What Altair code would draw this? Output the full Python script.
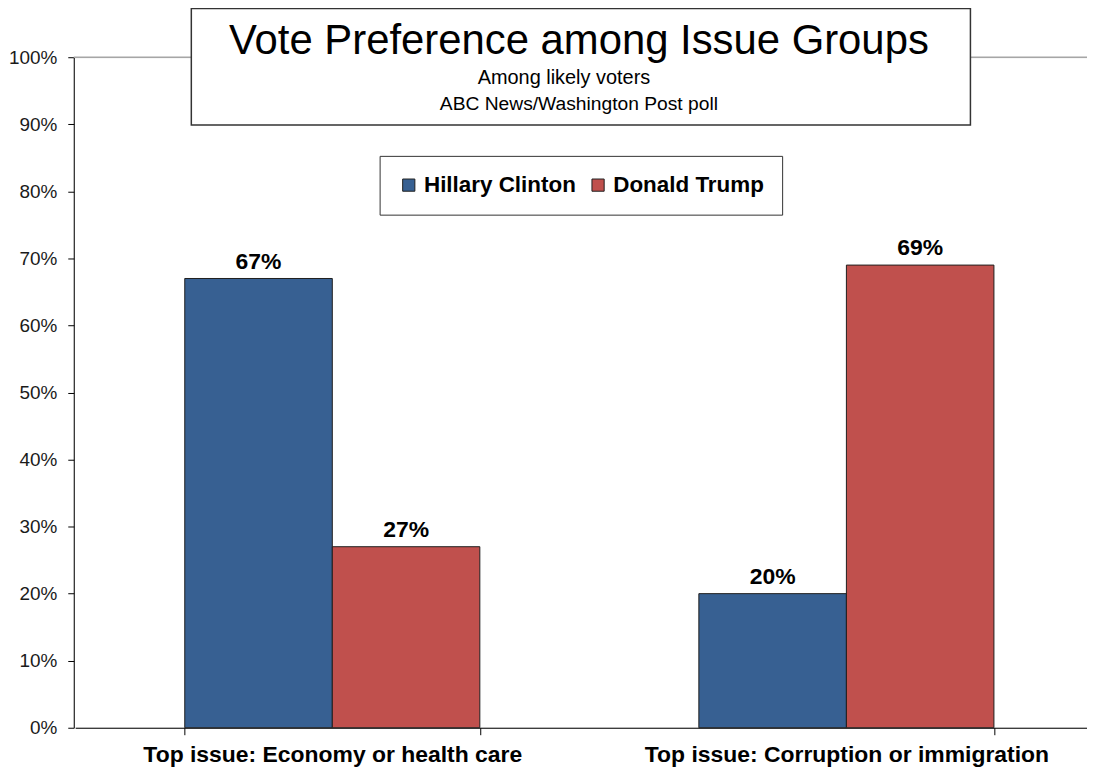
import altair as alt
import pandas as pd

groups = ["Top issue: Economy or health care", "Top issue: Corruption or immigration"]
candidates = ["Hillary Clinton", "Donald Trump"]
clinton = [67, 20]
trump = [27, 69]
colors = ["#376092", "#C0504D"]
title_lines = ["Vote Preference among Issue Groups", "Among likely voters", "ABC News/Washington  Post poll"]
y_ticks = [0, 10, 20, 30, 40, 50, 60, 70, 80, 90, 100]

rows = []
for g, c, t in zip(groups, clinton, trump):
    rows.append({"group": g, "cand": candidates[0], "val": c})
    rows.append({"group": g, "cand": candidates[1], "val": t})
df = pd.DataFrame(rows)

FONT = "Liberation Sans"
W, H = 1017, 673

xscale = alt.Scale(domain=groups, range=[1.5, 1033.5], paddingInner=0.426, paddingOuter=0.213)
yscale = alt.Scale(domain=[0, 100], nice=False)
off = alt.XOffset("cand:N", sort=candidates, scale=alt.Scale(domain=candidates, paddingInner=0, paddingOuter=0))

grid = alt.Chart(pd.DataFrame({"v": [100]})).mark_rule(color="#A6A6A6", strokeWidth=1.5).encode(
    y=alt.Y("v:Q", scale=yscale)
)

bars = alt.Chart(df).mark_bar(stroke="#1f1f1f", strokeWidth=1).encode(
    x=alt.X("group:N", sort=groups, scale=xscale,
            axis=alt.Axis(title=None, labelAngle=0, labelFont=FONT, labelFontSize=23, labelFontWeight="bold",
                          labelColor="#000", tickBand="extent", tickSize=7, tickColor="#000",
                          domainColor="#000", labelPadding=9, labelLimit=600)),
    xOffset=off,
    y=alt.Y("val:Q", scale=yscale,
            axis=alt.Axis(title=None, values=y_ticks, labelExpr="datum.value + '%'", grid=False,
                          labelFont=FONT, labelFontSize=19, labelColor="#1a1a1a", tickSize=6,
                          tickColor="#000", domainColor="#000", labelPadding=11,
                          minExtent=66, maxExtent=66)),
    color=alt.Color("cand:N", sort=candidates,
                    scale=alt.Scale(domain=candidates, range=colors),
                    legend=alt.Legend(title=None, orient="none", legendX=307, legendY=99, direction="horizontal",
                                      strokeColor="#333", fillColor="white", padding=18, symbolType="square",
                                      symbolSize=150, symbolStrokeColor="#1f1f1f", symbolStrokeWidth=1,
                                      labelFont=FONT, labelFontSize=22.5, labelFontWeight="bold",
                                      labelColor="#000", labelLimit=400, columnPadding=10, labelOffset=4)),
)

labels = alt.Chart(df).transform_calculate(lbl="datum.val + '%'").mark_text(
    font=FONT, fontSize=23, fontWeight="bold", baseline="alphabetic", dy=-10, color="#000").encode(
    x=alt.X("group:N", sort=groups, scale=xscale),
    xOffset=off,
    y=alt.Y("val:Q", scale=yscale),
    text="lbl:N",
)

title_box = alt.Chart(pd.DataFrame({"a": [0]})).mark_rect(fill="white", stroke="#333", strokeWidth=1.5).encode(
    x=alt.value(118), x2=alt.value(900), y=alt.value(-49), y2=alt.value(68)
)
t1 = alt.Chart(pd.DataFrame({"t": [title_lines[0]]})).mark_text(font=FONT, fontSize=42, color="#000",
                                                                 baseline="alphabetic").encode(
    x=alt.value(507), y=alt.value(-3), text="t:N")
t2 = alt.Chart(pd.DataFrame({"t": [title_lines[1]]})).mark_text(font=FONT, fontSize=20, color="#000",
                                                                 baseline="alphabetic").encode(
    x=alt.value(492), y=alt.value(27), text="t:N")
t3 = alt.Chart(pd.DataFrame({"t": [title_lines[2]]})).mark_text(font=FONT, fontSize=19.3, color="#000",
                                                                 baseline="alphabetic").encode(
    x=alt.value(507), y=alt.value(53), text="t:N")

chart = alt.layer(grid, title_box, t1, t2, t3, bars, labels).properties(
    width=W, height=H,
    autosize=alt.AutoSizeParams(type="none"),
    padding={"left": 66, "top": 48, "right": 0, "bottom": 40},
).configure_view(stroke=None).configure(background="white")

chart.save("out.html", embed_options={"renderer": "svg", "actions": False})
